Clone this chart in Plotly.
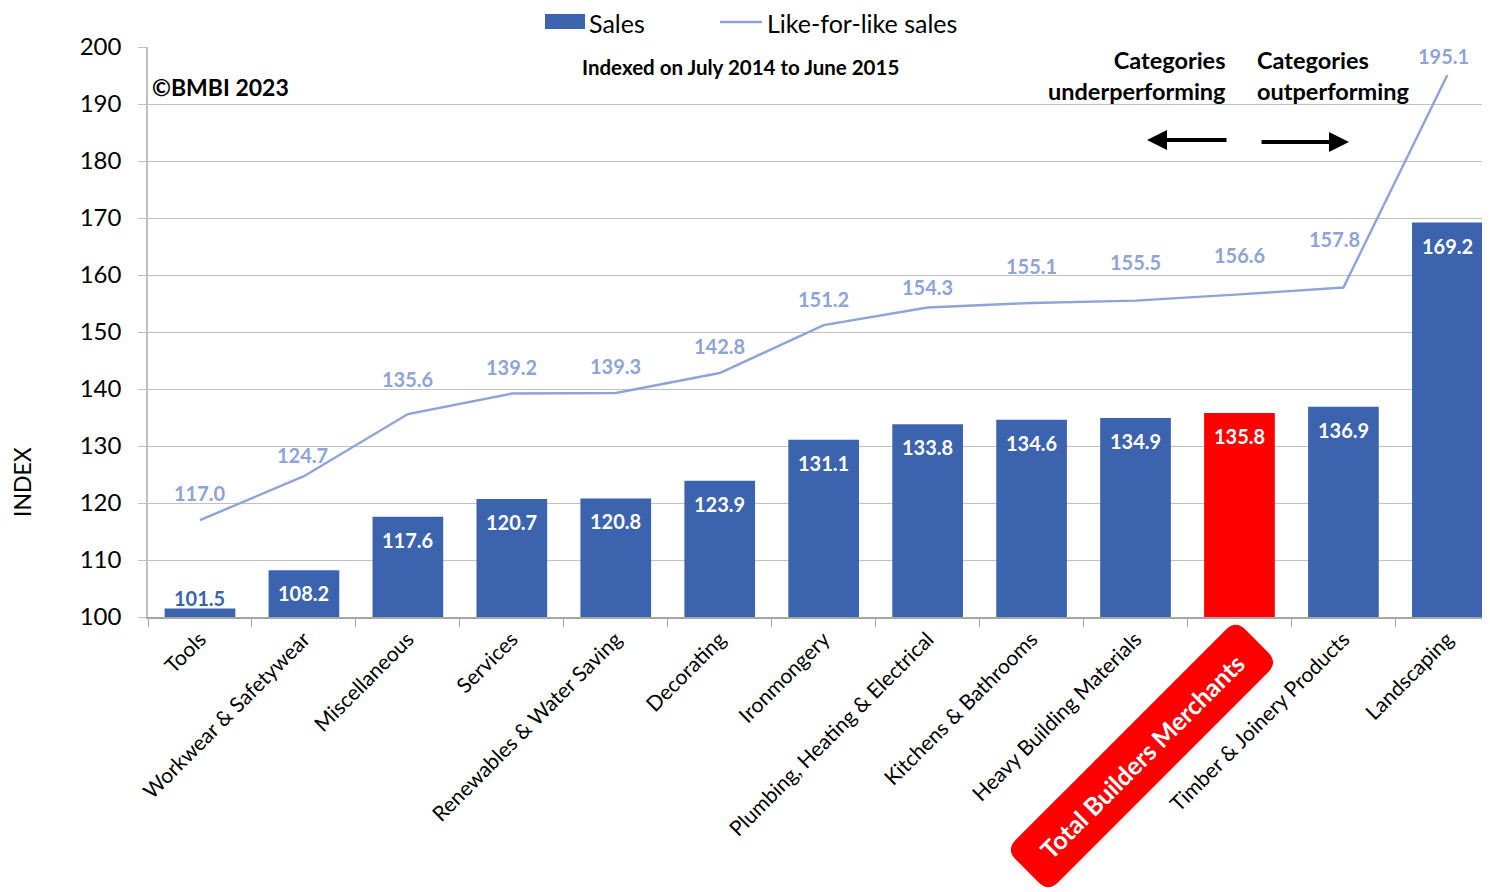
import math
import plotly.graph_objects as go

categories = ["Tools", "Workwear & Safetywear", "Miscellaneous", "Services",
              "Renewables & Water Saving", "Decorating", "Ironmongery",
              "Plumbing, Heating & Electrical", "Kitchens & Bathrooms",
              "Heavy Building Materials", "Total Builders Merchants",
              "Timber & Joinery Products", "Landscaping"]
sales = [101.5, 108.2, 117.6, 120.7, 120.8, 123.9, 131.1, 133.8, 134.6, 134.9, 135.8, 136.9, 169.2]
lfl_sales = [117.0, 124.7, 135.6, 139.2, 139.3, 142.8, 151.2, 154.3, 155.1, 155.5, 156.6, 157.8, 195.1]
highlight = "Total Builders Merchants"

# label placement (pixels above / beside each like-for-like point)
lfl_label_dy = [27, 21, 35, 27, 27, 27, 26, 20, 37, 39, 39, 49, 19]
lfl_label_dx = [0, -1, 0, 0, 0, 0, 0, 0, 0, 0, 0, -9, -4]

BLUE = "#3C63AE"
RED = "#FF0000"
LINE = "#8EA3D6"
FONT = "Lato, Open Sans, sans-serif"

OFF = 8
W, H = 1490 - OFF, 892 - OFF
PL, PT, PB, PR = 148, 47, 617, 1490
PLOT_W = PR - PL
PLOT_H = PB - PT
X_RANGE = [-0.5, 12.41]


def px(xp):
    return (xp - PL) / PLOT_W


def py(yp):
    return (PB - yp) / PLOT_H


bar_colors = [RED if c == highlight else BLUE for c in categories]

fig = go.Figure()
fig.add_trace(go.Bar(x=categories, y=sales, name="Sales", marker_color=bar_colors,
                     marker_line_width=0, showlegend=False))
fig.add_trace(go.Scatter(x=categories, y=lfl_sales, name="Like-for-like sales",
                         mode="lines", line=dict(color=LINE, width=2.4), showlegend=False))

ann = []
for c, v in zip(categories, sales):
    inside = v - 100 > 5
    ann.append(dict(x=c, y=v, xref="x", yref="y", text=f"<b>{v:.1f}</b>", showarrow=False,
                    xanchor="center", yanchor="middle",
                    yshift=-23 if inside else 10,
                    font=dict(family=FONT, size=20, color="white" if inside else BLUE)))
for c, v, dy, dx in zip(categories, lfl_sales, lfl_label_dy, lfl_label_dx):
    ann.append(dict(x=c, y=v, xref="x", yref="y", text=f"<b>{v:.1f}</b>", showarrow=False,
                    xanchor="center", yanchor="middle", xshift=dx,
                    yshift=dy, font=dict(family=FONT, size=20, color=LINE)))

ann += [
    dict(x=px(150), y=py(87), xref="paper", yref="paper", xanchor="left", yanchor="middle",
         text="<b>©BMBI 2023</b>", showarrow=False, font=dict(family=FONT, size=23, color="black")),
    dict(x=px(740), y=py(67), xref="paper", yref="paper", xanchor="center", yanchor="middle",
         text="<b>Indexed on July 2014 to June 2015</b>", showarrow=False,
         font=dict(family=FONT, size=20.5, color="black")),
    dict(x=px(1228), y=py(75), xref="paper", yref="paper", xanchor="right", yanchor="middle",
         align="right", text="<b>Categories<br>underperforming</b>",
         showarrow=False, font=dict(family=FONT, size=23.5, color="black")),
    dict(x=px(1255), y=py(75), xref="paper", yref="paper", xanchor="left", yanchor="middle",
         align="left", text="<b>Categories<br>outperforming</b>",
         showarrow=False, font=dict(family=FONT, size=23.5, color="black")),
    dict(x=px(1147), y=py(140), xref="paper", yref="paper", ax=81, ay=0,
         text="", showarrow=True, arrowhead=2, arrowsize=1, arrowwidth=4, arrowcolor="black"),
    dict(x=px(1349), y=py(142), xref="paper", yref="paper", ax=-89, ay=0,
         text="", showarrow=True, arrowhead=2, arrowsize=1, arrowwidth=4, arrowcolor="black"),
    dict(x=px(1142), y=py(756), xref="paper", yref="paper", xanchor="center", yanchor="middle",
         text="<b>" + highlight + "</b>", showarrow=False, textangle=-45,
         font=dict(family=FONT, size=25, color="white")),
    dict(x=px(22), y=py(482), xref="paper", yref="paper", xanchor="center", yanchor="middle",
         text="INDEX", showarrow=False, textangle=-90,
         font=dict(family=FONT, size=23, color="black")),
    dict(x=px(587), y=py(23), xref="paper", yref="paper", xanchor="left", yanchor="middle",
         text="Sales", showarrow=False, font=dict(family=FONT, size=25, color="black")),
    dict(x=px(765), y=py(23), xref="paper", yref="paper", xanchor="left", yanchor="middle",
         text="Like-for-like sales", showarrow=False, font=dict(family=FONT, size=25, color="black")),
]

shapes = [
    dict(type="rect", xref="paper", yref="paper", x0=px(545), x1=px(585), y0=py(29), y1=py(14),
         fillcolor=BLUE, line=dict(width=0)),
    dict(type="line", xref="paper", yref="paper", x0=px(720), x1=px(762), y0=py(22), y1=py(22),
         line=dict(color=LINE, width=2.4)),
]

cx, cy, BL, BT, R = 1142, 756, 325, 60, 14
ux, uy = math.cos(math.radians(45)), -math.sin(math.radians(45))
vx, vy = -uy, ux


def pt(a, b):
    return (cx + ux * a + vx * b, cy + uy * a + vy * b)


hl, ht = BL / 2, BT / 2
corners = [(hl, -ht), (hl, ht), (-hl, ht), (-hl, -ht)]
seq = []
for i, (a, b) in enumerate(corners):
    pa, pb = corners[i - 1]
    na, nb = corners[(i + 1) % 4]
    d1 = ((pa - a), (pb - b))
    n1 = math.hypot(*d1)
    d2 = ((na - a), (nb - b))
    n2 = math.hypot(*d2)
    seq.append((pt(a + d1[0] / n1 * R, b + d1[1] / n1 * R), pt(a, b),
                pt(a + d2[0] / n2 * R, b + d2[1] / n2 * R)))
path = ""
for i, (p_in, p_c, p_out) in enumerate(seq):
    cmd = "M" if i == 0 else "L"
    path += f"{cmd}{px(p_in[0]):.5f},{py(p_in[1]):.5f} "
    path += f"Q{px(p_c[0]):.5f},{py(p_c[1]):.5f} {px(p_out[0]):.5f},{py(p_out[1]):.5f} "
path += "Z"
shapes.append(dict(type="path", xref="paper", yref="paper", path=path,
                   fillcolor=RED, line=dict(width=0), layer="above"))

ticktext = ["" if c == highlight else c for c in categories]

fig.update_layout(
    width=W, height=H,
    margin=dict(l=PL - OFF, r=W - (PR - OFF), t=PT - OFF, b=H - (PB - OFF)),
    paper_bgcolor="white", plot_bgcolor="white",
    bargap=0.32,
    font=dict(family=FONT, color="black"),
    showlegend=False,
    annotations=ann,
    shapes=shapes,
    xaxis=dict(tickmode="array", tickvals=categories, ticktext=ticktext, tickangle=-45,
               range=X_RANGE,
               tickfont=dict(family=FONT, size=21, color="black"),
               showline=True, linecolor="#A6A6A6", linewidth=1.5,
               ticks="outside", tickson="boundaries", ticklen=8, tickcolor="#A6A6A6",
               showgrid=False, automargin=False),
    yaxis=dict(range=[100, 200], dtick=10, tickfont=dict(family=FONT, size=24, color="black"),
               showgrid=True, gridcolor="#C0C0C0", gridwidth=1,
               showline=True, linecolor="#BFBFBF", linewidth=1.5,
               ticks="outside", ticklen=8, tickcolor="#BFBFBF", ticklabelstandoff=12,
               zeroline=False, automargin=False),
)

fig.write_html("out.html")
